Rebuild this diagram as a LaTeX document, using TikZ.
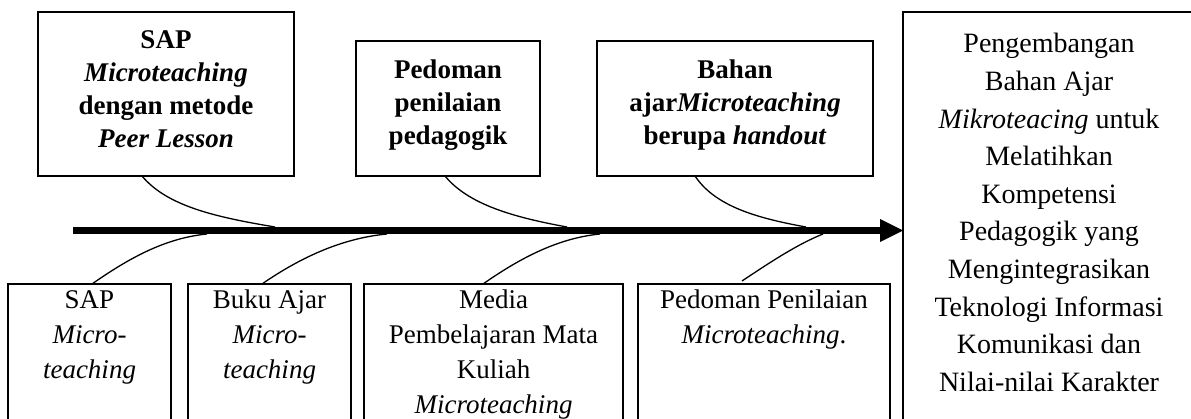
\documentclass[tikz,border=0pt]{standalone}
\usepackage{fontspec}
\setmainfont{Liberation Serif}
\usetikzlibrary{arrows.meta}
\newcommand{\mylines}[3]{{\fontsize{#1}{#2}\selectfont\begin{tabular}[t]{@{}c@{}}#3\end{tabular}}}
\begin{document}
\begin{tikzpicture}[x=1pt,y=-1pt,
  framebox/.style={draw, line width=1.6pt, inner sep=0pt, outer sep=0pt, anchor=north west},
  label/.style={anchor=base, inner sep=0pt},
  conn/.style={line width=1.3pt},
  spine/.style={line width=7pt, -{Triangle[length=23pt,width=23pt,line width=0pt]}}]
\useasboundingbox (0,0) rectangle (1191,419);
% top boxes
\node[framebox, minimum width=256pt, minimum height=164pt] (b1) at (38,12) {};
\node[framebox, minimum width=184pt, minimum height=135pt] (b2) at (356,41) {};
\node[framebox, minimum width=276pt, minimum height=135pt] (b3) at (597,41) {};
% bottom boxes
\node[framebox, minimum width=163pt, minimum height=150pt] (bA) at (8,284) {};
\node[framebox, minimum width=163pt, minimum height=150pt] (bB) at (188,284) {};
\node[framebox, minimum width=259pt, minimum height=150pt] (bC) at (364,284) {};
\node[framebox, minimum width=252pt, minimum height=150pt] (bD) at (638,284) {};
% result box
\node[framebox, minimum width=300pt, minimum height=430pt] (res) at (903,12) {};
% texts
\node[label] (t1) at (166,49) {\mylines{27}{33}{\bfseries SAP\\ \bfseries\itshape Microteaching\\ \bfseries dengan metode\\ \bfseries\itshape Peer Lesson}};
\node[label] (t2) at (448,79) {\mylines{27}{33}{\bfseries Pedoman\\ \bfseries penilaian\\ \bfseries pedagogik}};
\node[label] (t3) at (735,79) {\mylines{27}{33}{\bfseries Bahan\\ \bfseries ajar\textit{Microteaching}\\ \bfseries berupa \textit{handout}}};
\node[label] (tA) at (89.5,309) {\mylines{27}{35}{SAP\\ \itshape Micro-\\ \itshape teaching}};
\node[label] (tB) at (269.5,309) {\mylines{27}{35}{Buku Ajar\\ \itshape Micro-\\ \itshape teaching}};
\node[label] (tC) at (493.5,309) {\mylines{27}{35}{Media\\ Pembelajaran Mata\\ Kuliah\\ \itshape Microteaching}};
\node[label] (tD) at (764,309) {\mylines{27}{35}{Pedoman Penilaian\\ \textit{Microteaching}.}};
\node[label] (tR) at (1049,53) {\mylines{28}{37.6}{Pengembangan\\ Bahan Ajar\\ \textit{Mikroteacing} untuk\\ Melatihkan\\ Kompetensi\\ Pedagogik yang\\ Mengintegrasikan\\ Teknologi Informasi\\ Komunikasi dan\\ Nilai-nilai Karakter}};
% spine
\coordinate (s0) at (73,230.5);
\draw[spine] (s0) -- (s0 -| res.west);
% joints on the spine
\coordinate (c1) at (275,227);
\coordinate (c2) at (567,227);
\coordinate (c3) at (806,227);
\coordinate (d1) at (207,234);
\coordinate (d2) at (387,234);
\coordinate (d3) at (600,234);
\coordinate (d4) at (823,234);
% connectors
\draw[conn] ([xshift=104pt]b1.south west) .. controls +(25,30) and +(-60,-10) .. (c1);
\draw[conn] ([xshift=89pt]b2.south west) .. controls +(23,28) and +(-55,-10) .. (c2);
\draw[conn] ([xshift=98pt]b3.south west) .. controls +(20,30) and +(-50,-9) .. (c3);
\draw[conn] ([xshift=84pt]bA.north west) .. controls +(40,-28) and +(-40,4) .. (d1);
\draw[conn] ([xshift=74pt]bB.north west) .. controls +(42,-29) and +(-42,4) .. (d2);
\draw[conn] ([xshift=119pt]bC.north west) .. controls +(40,-28) and +(-40,4) .. (d3);
\draw[conn] ([xshift=104pt,yshift=3pt]bD.north west) .. controls +(30,-20) and +(-25,10) .. (d4);
\end{tikzpicture}
\end{document}
